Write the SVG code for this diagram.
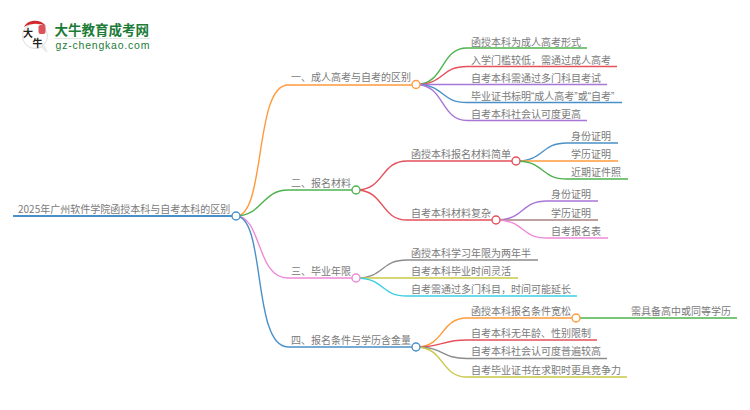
<svg xmlns="http://www.w3.org/2000/svg" width="750" height="410" viewBox="0 0 750 410">
<style>
text{font-family:"Noto Sans CJK SC","Liberation Sans",sans-serif;font-size:10px;fill:#7a7a7a}
.q{font-family:"Liberation Sans",sans-serif}
.e{fill:none;stroke-width:1.4}
.c{fill:#fff;stroke-width:1.4}
.or{stroke:#ff9a3c}.gr{stroke:#4db34d}.re{stroke:#e5505a}.pu{stroke:#a876d6}.bl{stroke:#4a90c8}.pi{stroke:#ee8ad6}.gy{stroke:#8c8c8c}.ol{stroke:#c8c84a}.cy{stroke:#3ccfe0}.br{stroke:#a98080}
</style>
<g id="connectors">
<path class="e bl" style="stroke-width:2" d="M13 216H236"/>
<path class="e or" d="M236 216C266 216 254 85 288 85H416"/>
<path class="e gr" d="M236 216C262 216 262 190 288 190H356"/>
<path class="e pi" d="M236 216C262 216 256 278 288 278H356"/>
<path class="e bl" d="M236 216C266 216 252 347 288 347H416"/>
<path class="e gr" d="M416 84.500C445 84.500 440 48 467 48H587"/>
<path class="e re" d="M416 84.500C445 84.500 440 66.500 467 66.500H617"/>
<path class="e pu" d="M416 84.500H607"/>
<path class="e bl" d="M416 84.500C445 84.500 440 102.500 467 102.500H622"/>
<path class="e pu" d="M416 84.500C445 84.500 440 120.500 467 120.500H587"/>
<path class="e re" d="M356 190C385 190 380 161 407 161H516"/>
<path class="e re" d="M356 190C385 190 380 220 407 220H496"/>
<path class="e bl" d="M516 161C545 161 540 143 567 143H618"/>
<path class="e or" d="M516 161H618"/>
<path class="e gr" d="M516 161C545 161 540 179 567 179H628"/>
<path class="e pu" d="M496 220C525 220 520 201 547 201H598"/>
<path class="e br" d="M496 220H598"/>
<path class="e pi" d="M496 220C525 220 520 238 547 238H608"/>
<path class="e gy" d="M356 278C385 278 380 260 407 260H538"/>
<path class="e ol" d="M356 278H518"/>
<path class="e cy" d="M356 278C385 278 380 296 407 296H577"/>
<path class="e or" d="M416 347C445 347 440 318 467 318H576"/>
<path class="e re" d="M416 347C445 347 440 340 467 340H597"/>
<path class="e gy" d="M416 347C445 347 440 358.500 467 358.500H607"/>
<path class="e ol" d="M416 347C445 347 440 377 467 377H627"/>
<path class="e gr" d="M576 318H737"/>
</g>
<g id="logo">
<circle cx="35" cy="36" r="12.500" fill="#fff" stroke="#ddd"/>
<path d="M41 47L47 52L44 45Z" fill="#eee" stroke="#ddd" stroke-width=".6"/>
<path d="M24 27C28 19 41 19 46 26C39 23 31 23 24 27Z" fill="#d2262b"/>
<rect x="38.500" y="25" width="7" height="9" rx="2" fill="#d9555a"/>
<text x="23" y="37" style="font-size:10px;fill:#222;font-weight:700">大</text>
<text x="32.500" y="47" style="font-size:10px;fill:#222;font-weight:700">牛</text>
<text x="54.500" y="35" style="font-size:13.500px;fill:#1c7c37;font-weight:700">大牛教育成考网</text>
<rect x="55" y="38" width="95" height="1" fill="#dfe9e2"/>
<text x="55.500" y="48.500" textLength="94" style="font-size:10.500px;fill:#1c7c37;font-family:'Liberation Sans',sans-serif">gz-chengkao.com</text>
</g>
<g id="root"><text x="18" y="213">2025年广州软件学院函授本科与自考本科的区别</text><circle class="c bl" cx="236" cy="216" r="4"/></g>
<g id="b1"><text x="291" y="81">一、成人高考与自考的区别</text><circle class="c or" cx="416" cy="84.500" r="4"/></g>
<g id="b1-1"><text x="471" y="45.500">函授本科为成人高考形式</text></g>
<g id="b1-2"><text x="471" y="63.500">入学门槛较低，需通过成人高考</text></g>
<g id="b1-3"><text x="471" y="81.500">自考本科需通过多门科目考试</text></g>
<g id="b1-4"><text x="471" y="99.500">毕业证书标明<tspan class="q">“</tspan>成人高考<tspan class="q">”</tspan>或<tspan class="q">“</tspan>自考<tspan class="q">”</tspan></text></g>
<g id="b1-5"><text x="471" y="117.500">自考本科社会认可度更高</text></g>
<g id="b2"><text x="291" y="187">二、报名材料</text><circle class="c gr" cx="356" cy="190" r="4"/></g>
<g id="b2-1"><text x="411" y="158">函授本科报名材料简单</text><circle class="c re" cx="516" cy="161" r="4"/></g>
<g id="b2-1-1"><text x="571" y="140">身份证明</text></g>
<g id="b2-1-2"><text x="571" y="158">学历证明</text></g>
<g id="b2-1-3"><text x="571" y="176">近期证件照</text></g>
<g id="b2-2"><text x="411" y="217">自考本科材料复杂</text><circle class="c re" cx="496" cy="220" r="4"/></g>
<g id="b2-2-1"><text x="551" y="198">身份证明</text></g>
<g id="b2-2-2"><text x="551" y="217">学历证明</text></g>
<g id="b2-2-3"><text x="551" y="235">自考报名表</text></g>
<g id="b3"><text x="291" y="275">三、毕业年限</text><circle class="c pi" cx="356" cy="278" r="4"/></g>
<g id="b3-1"><text x="411" y="257">函授本科学习年限为两年半</text></g>
<g id="b3-2"><text x="411" y="275">自考本科毕业时间灵活</text></g>
<g id="b3-3"><text x="411" y="293">自考需通过多门科目，时间可能延长</text></g>
<g id="b4"><text x="291" y="344">四、报名条件与学历含金量</text><circle class="c bl" cx="416" cy="347" r="4"/></g>
<g id="b4-1"><text x="471" y="315">函授本科报名条件宽松</text><circle class="c or" cx="576" cy="318" r="4"/></g>
<g id="b4-1-1"><text x="631" y="315">需具备高中或同等学历</text></g>
<g id="b4-2"><text x="471" y="337">自考本科无年龄、性别限制</text></g>
<g id="b4-3"><text x="471" y="355">自考本科社会认可度普遍较高</text></g>
<g id="b4-4"><text x="471" y="374">自考毕业证书在求职时更具竞争力</text></g>
</svg>
